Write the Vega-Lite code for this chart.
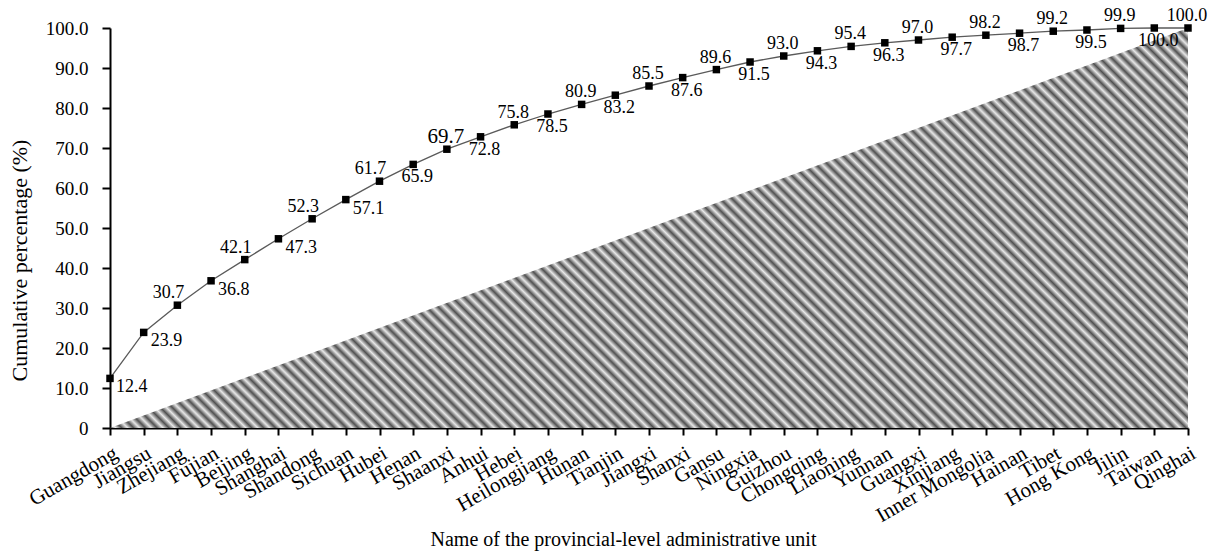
{
"$schema": "https://vega.github.io/schema/vega-lite/v6.json",
"width": 1078, "height": 400,
"autosize": "none",
"padding": {"left": 110, "top": 28, "right": 31, "bottom": 123},
"background": "white",
"config": {"font": "Liberation Serif", "view": {"stroke": null}},
"datasets": {
"pct": [
{"name": "Guangdong", "value": 12.4},
{"name": "Jiangsu", "value": 23.9},
{"name": "Zhejiang", "value": 30.7},
{"name": "Fujian", "value": 36.8},
{"name": "Beijing", "value": 42.1},
{"name": "Shanghai", "value": 47.3},
{"name": "Shandong", "value": 52.3},
{"name": "Sichuan", "value": 57.1},
{"name": "Hubei", "value": 61.7},
{"name": "Henan", "value": 65.9},
{"name": "Shaanxi", "value": 69.7},
{"name": "Anhui", "value": 72.8},
{"name": "Hebei", "value": 75.8},
{"name": "Heilongjiang", "value": 78.5},
{"name": "Hunan", "value": 80.9},
{"name": "Tianjin", "value": 83.2},
{"name": "Jiangxi", "value": 85.5},
{"name": "Shanxi", "value": 87.6},
{"name": "Gansu", "value": 89.6},
{"name": "Ningxia", "value": 91.5},
{"name": "Guizhou", "value": 93.0},
{"name": "Chongqing", "value": 94.3},
{"name": "Liaoning", "value": 95.4},
{"name": "Yunnan", "value": 96.3},
{"name": "Guangxi", "value": 97.0},
{"name": "Xinjiang", "value": 97.7},
{"name": "Inner Mongolia", "value": 98.2},
{"name": "Hainan", "value": 98.7},
{"name": "Tibet", "value": 99.2},
{"name": "Hong Kong", "value": 99.5},
{"name": "Jilin", "value": 99.9},
{"name": "Taiwan", "value": 100.0},
{"name": "Qinghai", "value": 100.0}
],
"eq": [
{"name": "Guangdong", "value": 0},
{"name": "Qinghai", "value": 100}
]
},
"encoding": {
"x": {"field": "name", "type": "ordinal", "sort": null,
 "scale": {"type": "point", "padding": 0, "domain": ["Guangdong","Jiangsu","Zhejiang","Fujian","Beijing","Shanghai","Shandong","Sichuan","Hubei","Henan","Shaanxi","Anhui","Hebei","Heilongjiang","Hunan","Tianjin","Jiangxi","Shanxi","Gansu","Ningxia","Guizhou","Chongqing","Liaoning","Yunnan","Guangxi","Xinjiang","Inner Mongolia","Hainan","Tibet","Hong Kong","Jilin","Taiwan","Qinghai"]},
 "axis": {"title": "Name of the provincial-level administrative unit", "grid": false,
  "labelAngle": -30, "labelAlign": "right", "labelBaseline": "top", "labelFontSize": 21, "labelColor": "black", "labelPadding": 7,
  "tickColor": "black", "tickSize": 7, "tickWidth": 2, "domainColor": "black", "domainWidth": 2,
  "titleFontSize": 20, "titleFontWeight": "normal", "titleColor": "black", "titleX": 513, "titleY": 117, "titleBaseline": "alphabetic", "titleAlign": "center", "labelOverlap": false}},
"y": {"field": "value", "type": "quantitative",
 "scale": {"domain": [0, 100], "nice": false, "zero": true},
 "axis": {"title": "Cumulative  percentage (%)", "grid": false, "values": [0,10,20,30,40,50,60,70,80,90,100],
  "labelExpr": "datum.value == 0 ? '0' : format(datum.value, '.1f')",
  "labelFontSize": 19, "labelColor": "black", "labelPadding": 14,
  "tickColor": "black", "tickSize": 8, "tickWidth": 2, "domainColor": "black", "domainWidth": 2,
  "titleFontSize": 22, "titleFontWeight": "normal", "titleColor": "black", "titleX": -91, "titleY": 232, "titleBaseline": "middle", "titleAlign": "center"}}
},
"layer": [
{"data": {"name": "eq"},
 "mark": {"type": "area", "fill": {"gradient": "linear", "x1": 0, "y1": 1, "x2": 1.2052, "y2": 0.5527, "stops": [
{"offset":0,"color":"#505050"},{"offset":0.004,"color":"#e8e8e8"},{"offset":0.008,"color":"#505050"},{"offset":0.012,"color":"#e8e8e8"},{"offset":0.016,"color":"#505050"},{"offset":0.02,"color":"#e8e8e8"},{"offset":0.024,"color":"#505050"},{"offset":0.028,"color":"#e8e8e8"},{"offset":0.032,"color":"#505050"},{"offset":0.036,"color":"#e8e8e8"},
{"offset":0.04,"color":"#505050"},{"offset":0.044,"color":"#e8e8e8"},{"offset":0.048,"color":"#505050"},{"offset":0.052,"color":"#e8e8e8"},{"offset":0.056,"color":"#505050"},{"offset":0.06,"color":"#e8e8e8"},{"offset":0.064,"color":"#505050"},{"offset":0.068,"color":"#e8e8e8"},{"offset":0.072,"color":"#505050"},{"offset":0.076,"color":"#e8e8e8"},
{"offset":0.08,"color":"#505050"},{"offset":0.084,"color":"#e8e8e8"},{"offset":0.088,"color":"#505050"},{"offset":0.092,"color":"#e8e8e8"},{"offset":0.096,"color":"#505050"},{"offset":0.1,"color":"#e8e8e8"},{"offset":0.104,"color":"#505050"},{"offset":0.108,"color":"#e8e8e8"},{"offset":0.112,"color":"#505050"},{"offset":0.116,"color":"#e8e8e8"},
{"offset":0.12,"color":"#505050"},{"offset":0.124,"color":"#e8e8e8"},{"offset":0.128,"color":"#505050"},{"offset":0.132,"color":"#e8e8e8"},{"offset":0.136,"color":"#505050"},{"offset":0.14,"color":"#e8e8e8"},{"offset":0.144,"color":"#505050"},{"offset":0.148,"color":"#e8e8e8"},{"offset":0.152,"color":"#505050"},{"offset":0.156,"color":"#e8e8e8"},
{"offset":0.16,"color":"#505050"},{"offset":0.164,"color":"#e8e8e8"},{"offset":0.168,"color":"#505050"},{"offset":0.172,"color":"#e8e8e8"},{"offset":0.176,"color":"#505050"},{"offset":0.18,"color":"#e8e8e8"},{"offset":0.184,"color":"#505050"},{"offset":0.188,"color":"#e8e8e8"},{"offset":0.192,"color":"#505050"},{"offset":0.196,"color":"#e8e8e8"},
{"offset":0.2,"color":"#505050"},{"offset":0.204,"color":"#e8e8e8"},{"offset":0.208,"color":"#505050"},{"offset":0.212,"color":"#e8e8e8"},{"offset":0.216,"color":"#505050"},{"offset":0.22,"color":"#e8e8e8"},{"offset":0.224,"color":"#505050"},{"offset":0.228,"color":"#e8e8e8"},{"offset":0.232,"color":"#505050"},{"offset":0.236,"color":"#e8e8e8"},
{"offset":0.24,"color":"#505050"},{"offset":0.244,"color":"#e8e8e8"},{"offset":0.248,"color":"#505050"},{"offset":0.252,"color":"#e8e8e8"},{"offset":0.256,"color":"#505050"},{"offset":0.26,"color":"#e8e8e8"},{"offset":0.264,"color":"#505050"},{"offset":0.268,"color":"#e8e8e8"},{"offset":0.272,"color":"#505050"},{"offset":0.276,"color":"#e8e8e8"},
{"offset":0.28,"color":"#505050"},{"offset":0.284,"color":"#e8e8e8"},{"offset":0.288,"color":"#505050"},{"offset":0.292,"color":"#e8e8e8"},{"offset":0.296,"color":"#505050"},{"offset":0.3,"color":"#e8e8e8"},{"offset":0.304,"color":"#505050"},{"offset":0.308,"color":"#e8e8e8"},{"offset":0.312,"color":"#505050"},{"offset":0.316,"color":"#e8e8e8"},
{"offset":0.32,"color":"#505050"},{"offset":0.324,"color":"#e8e8e8"},{"offset":0.328,"color":"#505050"},{"offset":0.332,"color":"#e8e8e8"},{"offset":0.336,"color":"#505050"},{"offset":0.34,"color":"#e8e8e8"},{"offset":0.344,"color":"#505050"},{"offset":0.348,"color":"#e8e8e8"},{"offset":0.352,"color":"#505050"},{"offset":0.356,"color":"#e8e8e8"},
{"offset":0.36,"color":"#505050"},{"offset":0.364,"color":"#e8e8e8"},{"offset":0.368,"color":"#505050"},{"offset":0.372,"color":"#e8e8e8"},{"offset":0.376,"color":"#505050"},{"offset":0.38,"color":"#e8e8e8"},{"offset":0.384,"color":"#505050"},{"offset":0.388,"color":"#e8e8e8"},{"offset":0.392,"color":"#505050"},{"offset":0.396,"color":"#e8e8e8"},
{"offset":0.4,"color":"#505050"},{"offset":0.404,"color":"#e8e8e8"},{"offset":0.408,"color":"#505050"},{"offset":0.412,"color":"#e8e8e8"},{"offset":0.416,"color":"#505050"},{"offset":0.42,"color":"#e8e8e8"},{"offset":0.424,"color":"#505050"},{"offset":0.428,"color":"#e8e8e8"},{"offset":0.432,"color":"#505050"},{"offset":0.436,"color":"#e8e8e8"},
{"offset":0.44,"color":"#505050"},{"offset":0.444,"color":"#e8e8e8"},{"offset":0.448,"color":"#505050"},{"offset":0.452,"color":"#e8e8e8"},{"offset":0.456,"color":"#505050"},{"offset":0.46,"color":"#e8e8e8"},{"offset":0.464,"color":"#505050"},{"offset":0.468,"color":"#e8e8e8"},{"offset":0.472,"color":"#505050"},{"offset":0.476,"color":"#e8e8e8"},
{"offset":0.48,"color":"#505050"},{"offset":0.484,"color":"#e8e8e8"},{"offset":0.488,"color":"#505050"},{"offset":0.492,"color":"#e8e8e8"},{"offset":0.496,"color":"#505050"},{"offset":0.5,"color":"#e8e8e8"},{"offset":0.504,"color":"#505050"},{"offset":0.508,"color":"#e8e8e8"},{"offset":0.512,"color":"#505050"},{"offset":0.516,"color":"#e8e8e8"},
{"offset":0.52,"color":"#505050"},{"offset":0.524,"color":"#e8e8e8"},{"offset":0.528,"color":"#505050"},{"offset":0.532,"color":"#e8e8e8"},{"offset":0.536,"color":"#505050"},{"offset":0.54,"color":"#e8e8e8"},{"offset":0.544,"color":"#505050"},{"offset":0.548,"color":"#e8e8e8"},{"offset":0.552,"color":"#505050"},{"offset":0.556,"color":"#e8e8e8"},
{"offset":0.56,"color":"#505050"},{"offset":0.564,"color":"#e8e8e8"},{"offset":0.568,"color":"#505050"},{"offset":0.572,"color":"#e8e8e8"},{"offset":0.576,"color":"#505050"},{"offset":0.58,"color":"#e8e8e8"},{"offset":0.584,"color":"#505050"},{"offset":0.588,"color":"#e8e8e8"},{"offset":0.592,"color":"#505050"},{"offset":0.596,"color":"#e8e8e8"},
{"offset":0.6,"color":"#505050"},{"offset":0.604,"color":"#e8e8e8"},{"offset":0.608,"color":"#505050"},{"offset":0.612,"color":"#e8e8e8"},{"offset":0.616,"color":"#505050"},{"offset":0.62,"color":"#e8e8e8"},{"offset":0.624,"color":"#505050"},{"offset":0.628,"color":"#e8e8e8"},{"offset":0.632,"color":"#505050"},{"offset":0.636,"color":"#e8e8e8"},
{"offset":0.64,"color":"#505050"},{"offset":0.644,"color":"#e8e8e8"},{"offset":0.648,"color":"#505050"},{"offset":0.652,"color":"#e8e8e8"},{"offset":0.656,"color":"#505050"},{"offset":0.66,"color":"#e8e8e8"},{"offset":0.664,"color":"#505050"},{"offset":0.668,"color":"#e8e8e8"},{"offset":0.672,"color":"#505050"},{"offset":0.676,"color":"#e8e8e8"},
{"offset":0.68,"color":"#505050"},{"offset":0.684,"color":"#e8e8e8"},{"offset":0.688,"color":"#505050"},{"offset":0.692,"color":"#e8e8e8"},{"offset":0.696,"color":"#505050"},{"offset":0.7,"color":"#e8e8e8"},{"offset":0.704,"color":"#505050"},{"offset":0.708,"color":"#e8e8e8"},{"offset":0.712,"color":"#505050"},{"offset":0.716,"color":"#e8e8e8"},
{"offset":0.72,"color":"#505050"},{"offset":0.724,"color":"#e8e8e8"},{"offset":0.728,"color":"#505050"},{"offset":0.732,"color":"#e8e8e8"},{"offset":0.736,"color":"#505050"},{"offset":0.74,"color":"#e8e8e8"},{"offset":0.744,"color":"#505050"},{"offset":0.748,"color":"#e8e8e8"},{"offset":0.752,"color":"#505050"},{"offset":0.756,"color":"#e8e8e8"},
{"offset":0.76,"color":"#505050"},{"offset":0.764,"color":"#e8e8e8"},{"offset":0.768,"color":"#505050"},{"offset":0.772,"color":"#e8e8e8"},{"offset":0.776,"color":"#505050"},{"offset":0.78,"color":"#e8e8e8"},{"offset":0.784,"color":"#505050"},{"offset":0.788,"color":"#e8e8e8"},{"offset":0.792,"color":"#505050"},{"offset":0.796,"color":"#e8e8e8"},
{"offset":0.8,"color":"#505050"},{"offset":0.804,"color":"#e8e8e8"},{"offset":0.808,"color":"#505050"},{"offset":0.812,"color":"#e8e8e8"},{"offset":0.816,"color":"#505050"},{"offset":0.82,"color":"#e8e8e8"},{"offset":0.824,"color":"#505050"},{"offset":0.828,"color":"#e8e8e8"},{"offset":0.832,"color":"#505050"},{"offset":0.836,"color":"#e8e8e8"},
{"offset":0.84,"color":"#505050"},{"offset":0.844,"color":"#e8e8e8"},{"offset":0.848,"color":"#505050"},{"offset":0.852,"color":"#e8e8e8"},{"offset":0.856,"color":"#505050"},{"offset":0.86,"color":"#e8e8e8"},{"offset":0.864,"color":"#505050"},{"offset":0.868,"color":"#e8e8e8"},{"offset":0.872,"color":"#505050"},{"offset":0.876,"color":"#e8e8e8"},
{"offset":0.88,"color":"#505050"},{"offset":0.884,"color":"#e8e8e8"},{"offset":0.888,"color":"#505050"},{"offset":0.892,"color":"#e8e8e8"},{"offset":0.896,"color":"#505050"},{"offset":0.9,"color":"#e8e8e8"},{"offset":0.904,"color":"#505050"},{"offset":0.908,"color":"#e8e8e8"},{"offset":0.912,"color":"#505050"},{"offset":0.916,"color":"#e8e8e8"},
{"offset":0.92,"color":"#505050"},{"offset":0.924,"color":"#e8e8e8"},{"offset":0.928,"color":"#505050"},{"offset":0.932,"color":"#e8e8e8"},{"offset":0.936,"color":"#505050"},{"offset":0.94,"color":"#e8e8e8"},{"offset":0.944,"color":"#505050"},{"offset":0.948,"color":"#e8e8e8"},{"offset":0.952,"color":"#505050"},{"offset":0.956,"color":"#e8e8e8"},
{"offset":0.96,"color":"#505050"},{"offset":0.964,"color":"#e8e8e8"},{"offset":0.968,"color":"#505050"},{"offset":0.972,"color":"#e8e8e8"},{"offset":0.976,"color":"#505050"},{"offset":0.98,"color":"#e8e8e8"},{"offset":0.984,"color":"#505050"},{"offset":0.988,"color":"#e8e8e8"},{"offset":0.992,"color":"#505050"},{"offset":0.996,"color":"#e8e8e8"},
{"offset":1,"color":"#505050"}
]}}},
{"data": {"name": "pct"}, "mark": {"type": "line", "color": "#5a5a5a", "strokeWidth": 1.3}},
{"data": {"name": "pct"}, "mark": {"type": "square", "size": 56, "color": "black", "opacity": 1}},
{"data": {"name": "pct"},
 "transform": [{"window": [{"op": "row_number", "as": "idx"}]}, {"filter": "datum.idx == 1"}],
 "mark": {"type": "text", "align": "left", "baseline": "middle", "dx": 6, "dy": 9, "fontSize": 18, "color": "black"},
 "encoding": {"text": {"field": "value", "type": "quantitative", "format": ".1f"}}},
{"data": {"name": "pct"},
 "transform": [{"window": [{"op": "row_number", "as": "idx"}]}, {"filter": "datum.idx % 2 == 0 && datum.idx <= 8"}],
 "mark": {"type": "text", "align": "left", "baseline": "middle", "dx": 7, "dy": 9, "fontSize": 18, "color": "black"},
 "encoding": {"text": {"field": "value", "type": "quantitative", "format": ".1f"}}},
{"data": {"name": "pct"},
 "transform": [{"window": [{"op": "row_number", "as": "idx"}]}, {"filter": "datum.idx % 2 == 0 && datum.idx >= 10"}],
 "mark": {"type": "text", "align": "center", "baseline": "middle", "dx": 4, "dy": 13, "fontSize": 18, "color": "black"},
 "encoding": {"text": {"field": "value", "type": "quantitative", "format": ".1f"}}},
{"data": {"name": "pct"},
 "transform": [{"window": [{"op": "row_number", "as": "idx"}]}, {"filter": "datum.idx % 2 == 1 && datum.idx >= 3 && datum.idx <= 9"}],
 "mark": {"type": "text", "align": "center", "baseline": "middle", "dx": -9, "dy": -12, "fontSize": 18, "color": "black"},
 "encoding": {"text": {"field": "value", "type": "quantitative", "format": ".1f"}}},
{"data": {"name": "pct"},
 "transform": [{"window": [{"op": "row_number", "as": "idx"}]}, {"filter": "datum.idx % 2 == 1 && datum.idx >= 11"}],
 "mark": {"type": "text", "align": "center", "baseline": "middle", "dx": -1, "dy": -12, "color": "black"},
 "encoding": {"text": {"field": "value", "type": "quantitative", "format": ".1f"},
  "size": {"condition": {"test": "datum.idx == 11", "value": 21}, "value": 18}}}
]
}
